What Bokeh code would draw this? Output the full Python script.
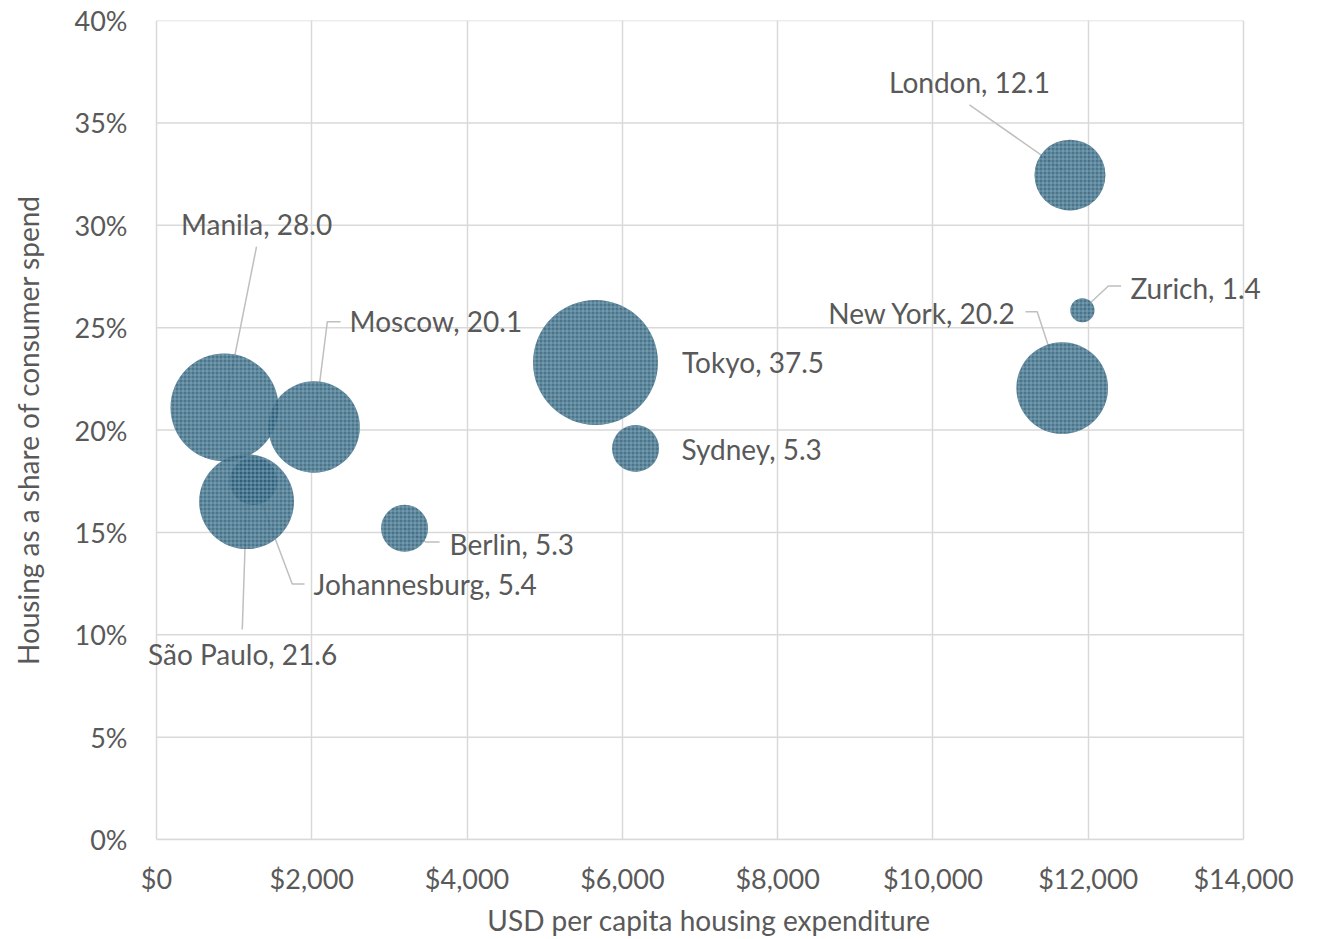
from bokeh.plotting import figure
from bokeh.models import Range1d, NumeralTickFormatter, FixedTicker, ColumnDataSource
from bokeh.core.properties import value
from bokeh.embed import file_html
from bokeh.resources import INLINE
import math

# ---- data ----
cities = ["Tokyo", "Manila", "Moscow", "São Paulo", "Johannesburg", "Berlin",
          "Sydney", "London", "Zurich", "New York"]
spend_usd = [5654, 876, 2030, 1160, 1250, 3195, 6170, 11765, 11925, 11665]
housing_share = [0.233, 0.211, 0.2015, 0.165, 0.175, 0.152, 0.191, 0.3245, 0.2585, 0.2205]
population_m = [37.5, 28.0, 20.1, 21.6, 5.4, 5.3, 5.3, 12.1, 1.4, 20.2]

x_ticks = [0, 2000, 4000, 6000, 8000, 10000, 12000, 14000]
y_ticks = [0, 0.05, 0.10, 0.15, 0.20, 0.25, 0.30, 0.35, 0.40]

# ---- label placement (pixel offsets from bubble centre, screen y down) ----
label_align = ["left", "center", "left", "center", "left", "left", "left", "center", "left", "right"]
label_off = [(86.5, 0), (32, -184), (35.5, -106), (-4, 153), (60, 103), (45, 16),
             (46, 0.5), (-100.5, -92.7), (48, -22), (-45.7, -75)]
leader_off = [
    None,
    [(0, 0), (32, -161)],
    [(0, 0), (13.2, -105.3), (26.5, -105.3)],
    [(0, 0), (-4.3, 128)],
    [(0, 0), (38.7, 103), (51, 103)],
    [(0, 0), (21, 13.7), (35, 13.7)],
    None,
    [(0, 0), (-100.5, -70.4)],
    [(0, 0), (26, -24.3), (38.7, -24.3)],
    [(0, 0), (-25, -76.3), (-36.7, -76.3)],
]

W, H = 1318, 939
XMAX, YMAX = 14000, 0.40
AX_L, AX_R, AX_T, AX_B = 156, 1243, 20, 840   # axes box in page pixels
PAD_L, PAD_R = 12, 30                         # room for labels beyond the axes
ux = XMAX / (AX_R - AX_L)
uy = YMAX / (AX_B - AX_T)
BL, BR = AX_L - PAD_L, W - (AX_R + PAD_R)
BT, BB = AX_T, H - AX_B

FONT = "Lato"
TXT = "#595959"
GRID = "#d9d9d9"

p = figure(width=W, height=H, output_backend="svg", toolbar_location=None,
           x_range=Range1d(-PAD_L * ux, XMAX + PAD_R * ux), y_range=Range1d(0, YMAX),
           min_border_left=BL, min_border_right=BR, min_border_top=BT, min_border_bottom=BB)
p.outline_line_color = None
p.background_fill_color = "white"
p.border_fill_color = "white"

for ax in (p.xaxis[0], p.yaxis[0]):
    ax.major_tick_line_color = None
    ax.minor_tick_line_color = None
    ax.axis_line_color = GRID
    ax.axis_line_width = 1.5
    ax.major_label_text_font = FONT
    ax.major_label_text_font_size = "27px"
    ax.major_label_text_color = TXT
    ax.axis_label_text_font = FONT
    ax.axis_label_text_font_size = "28px"
    ax.axis_label_text_color = TXT
    ax.axis_label_text_font_style = "normal"

p.xaxis.ticker = FixedTicker(ticks=x_ticks)
p.yaxis.ticker = FixedTicker(ticks=y_ticks)
p.xaxis.formatter = NumeralTickFormatter(format="$0,0")
p.yaxis.formatter = NumeralTickFormatter(format="0%")
p.xaxis.axis_label = "USD per capita housing expenditure"
p.yaxis.axis_label = "Housing as a share of consumer spend"
p.xaxis.bounds = (0, XMAX)
p.yaxis.axis_line_color = None   # the x=0 grid line serves as the axis line
p.xaxis.major_label_standoff = 16
p.xaxis.axis_label_standoff = 5
p.yaxis.major_label_standoff = 23 - PAD_L
p.yaxis.axis_label_standoff = 27

p.xgrid.grid_line_color = GRID
p.xgrid.grid_line_width = 1.5
p.ygrid.visible = False
# horizontal grid lines limited to the axes extent
p.segment(x0=[0] * len(y_ticks), x1=[XMAX] * len(y_ticks), y0=y_ticks, y1=y_ticks,
          line_color=GRID, line_width=1.5, level="underlay")

# leader lines
xs, ys = [], []
for i, pts in enumerate(leader_off):
    if pts is None:
        continue
    xs.append([spend_usd[i] + dx * ux for dx, dy in pts])
    ys.append([housing_share[i] - dy * uy for dx, dy in pts])
p.multi_line(xs, ys, line_color="#bfbfbf", line_width=1.5)

# bubbles (area proportional to population)
K = 10.2
sizes = [2 * K * math.sqrt(v) for v in population_m]
src = ColumnDataSource(dict(x=spend_usd, y=housing_share, s=sizes))
p.scatter("x", "y", size="s", source=src, marker="circle",
          fill_color="#2a5d78", fill_alpha=0.85, line_color=None,
          hatch_pattern="+", hatch_color="#a8c4d1", hatch_alpha=0.5,
          hatch_scale=4, hatch_weight=1)

# labels
labels = [f"{c}, {v:.1f}" for c, v in zip(cities, population_m)]
lx = [spend_usd[i] + label_off[i][0] * ux for i in range(len(cities))]
ly = [housing_share[i] - label_off[i][1] * uy for i in range(len(cities))]
lsrc = ColumnDataSource(dict(x=lx, y=ly, t=labels, a=label_align))
p.text("x", "y", text="t", source=lsrc, text_align="a", text_baseline="middle",
       text_font=value(FONT), text_font_size="28px", text_color=TXT)

open("out.html", "w").write(file_html(p, INLINE))
